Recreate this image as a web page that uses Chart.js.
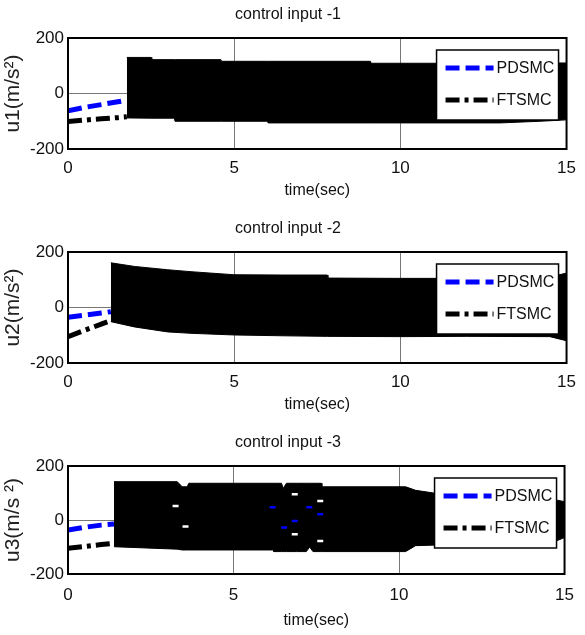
<!DOCTYPE html>
<html>
<head>
<meta charset="utf-8">
<script src="https://cdn.jsdelivr.net/npm/chart.js@4.4.1/dist/chart.umd.min.js"></script>
<style>
  html, body { margin: 0; padding: 0; background: #fff; }
  .panel { position: absolute; left: 0; }
</style>
</head>
<body>
<div class="panel" style="top:0px"><canvas id="u1" width="585" height="205"></canvas></div>
<div class="panel" style="top:214px"><canvas id="u2" width="585" height="205"></canvas></div>
<div class="panel" style="top:428px"><canvas id="u3" width="585" height="207"></canvas></div>
<script>
// ---- control input 1 ----
const pd1T = [0, 0.5, 1.0, 1.5, 1.77];
const pd1Y = [-62, -50, -40, -30, -24];
const ft1T = [0, 0.5, 1.0, 1.5, 1.77];
const ft1Y = [-101, -96, -91, -87, -84];
// envelope of the switching band
const band1T = [1.77, 2.5, 2.52, 3.2, 3.22, 4.6, 4.62, 6.0, 6.02, 9.1, 9.12, 13.0, 14.2, 15.0];
const band1Hi = [130, 130, 122, 122, 122, 122, 116, 116, 116, 116, 109, 109, 110, 110];
const band1Lo = [-88, -89, -89, -89, -100, -100, -100, -100, -106, -106, -106, -106, -100, -95];

// ---- control input 2 ----
const pd2T = [0, 0.5, 1.0, 1.29];
const pd2Y = [-35, -28, -20, -15];
const ft2T = [0, 0.5, 1.0, 1.29];
const ft2Y = [-105, -82, -60, -47];
const band2T = [1.29, 2, 3, 3.7, 5, 6.5, 7.8, 7.82, 10, 12, 14.5, 15];
const band2Hi = [161, 148, 136, 129, 118, 117, 117, 106, 105, 105, 110, 124];
const band2Lo = [-51, -70, -88, -93, -99, -102, -104, -104, -105, -104, -105, -120];

// ---- control input 3 ----
const pd3T = [0, 0.5, 1.0, 1.39];
const pd3Y = [-37, -27, -19, -15];
const ft3T = [0, 0.5, 1.0, 1.39];
const ft3Y = [-105, -98, -91, -86];
const band3T = [1.39, 3.3, 3.45, 3.6, 3.65, 6.2, 6.22, 6.45, 6.5, 6.6, 6.9, 7.2, 7.3, 7.4, 7.65, 7.67, 10.2, 10.5, 11.1, 13, 14.5, 15];
const band3Hi = [142, 142, 123, 123, 136, 136, 136, 136, 117, 136, 136, 136, 136, 136, 136, 123, 123, 110, 99, 95, 80, 68];
const band3Lo = [-99, -108, -111, -111, -111, -111, -117, -117, -117, -117, -117, -117, -100, -117, -117, -117, -117, -95, -93, -100, -90, -65];
// PDSMC samples showing through the band, and gaps in it
const pd3SpotT = [6.18, 7.29, 6.85, 7.62, 6.53];
const pd3SpotY = [47, 47, -4, 21, -28];
const gap3T = [3.25, 3.55, 6.85, 7.62, 6.85, 7.62];
const gap3Y = [52, -24, 95, 70, -53, -78];

const xTicks = [0, 5, 10, 15];
const yTicks = [-200, 0, 200];

const FONT = "'Liberation Sans', Arial, sans-serif";
const BLUE = 'rgb(0,0,255)';

function toPts(ts, ys) {
  return ts.map((t, i) => ({ x: t, y: ys[i] }));
}

// black box round the plot area
const frame = {
  id: 'frame',
  afterDatasetsDraw(chart) {
    const { ctx, chartArea: a } = chart;
    ctx.save();
    ctx.strokeStyle = '#000';
    ctx.lineWidth = 2;
    ctx.strokeRect(a.left, a.top, a.right - a.left, a.bottom - a.top);
    ctx.restore();
  }
};

// boxed legend in the upper right corner of the plot
const boxLegend = {
  id: 'boxLegend',
  afterDatasetsDraw(chart) {
    const { ctx, chartArea: a } = chart;
    const w = 122, h = 70;
    const left = a.right - 130, top = a.top + 12;
    ctx.save();
    ctx.fillStyle = '#fff';
    ctx.fillRect(left, top, w, h);
    ctx.strokeStyle = '#000';
    ctx.lineWidth = 1.5;
    ctx.strokeRect(left, top, w, h);
    const entries = chart.data.datasets.filter(d => d.label === 'PDSMC' || d.label === 'FTSMC');
    entries.forEach((d, i) => {
      const y = top + 18 + i * 32;
      ctx.beginPath();
      ctx.setLineDash(d.borderDash || []);
      ctx.lineWidth = d.borderWidth;
      ctx.strokeStyle = d.borderColor;
      ctx.moveTo(left + 9, y);
      ctx.lineTo(left + 57, y);
      ctx.stroke();
      ctx.setLineDash([]);
      ctx.fillStyle = '#111';
      ctx.font = '16px ' + FONT;
      ctx.textBaseline = 'middle';
      ctx.textAlign = 'left';
      ctx.fillText(d.label, left + 60, y + 1);
    });
    ctx.restore();
  }
};

function makeChart(id, opts) {
  const datasets = [];
  if (opts.gaps) {
    datasets.push({
      label: 'gaps', data: opts.gaps, showLine: false,
      pointStyle: 'line', pointRadius: 3, pointBorderColor: '#fff', pointBorderWidth: 2.5
    });
  }
  if (opts.spots) {
    datasets.push({
      label: 'PDSMC spots', data: opts.spots, showLine: false,
      pointStyle: 'line', pointRadius: 3, pointBorderColor: BLUE, pointBorderWidth: 2.5
    });
  }
  datasets.push(
    { label: 'PDSMC', data: opts.pd, borderColor: BLUE, borderWidth: 5, borderDash: [14, 6],
      pointRadius: 0, fill: false },
    { label: 'FTSMC', data: opts.ft, borderColor: '#000', borderWidth: 5, borderDash: [14, 5, 4, 5],
      pointRadius: 0, fill: false },
    { label: 'band top', data: opts.hi, borderColor: '#000', borderWidth: 1, backgroundColor: '#000',
      pointRadius: 0, fill: '+1' },
    { label: 'band bottom', data: opts.lo, borderColor: '#000', borderWidth: 1,
      pointRadius: 0, fill: false }
  );

  const tickFont = { family: FONT, size: 17 };
  const textFont = { family: FONT, size: 16, weight: 'normal' };
  return new Chart(document.getElementById(id), {
    type: 'line',
    data: { datasets },
    options: {
      responsive: false,
      animation: false,
      events: [],
      layout: { padding: { left: 0, right: 9, top: 0, bottom: 0 } },
      plugins: {
        legend: { display: false },
        tooltip: { enabled: false },
        title: {
          display: true, text: opts.title, color: '#111',
          font: textFont,
          padding: { top: 5, bottom: 13.8 }
        }
      },
      scales: {
        x: {
          type: 'linear', min: 0, max: 15,
          afterBuildTicks: s => { s.ticks = xTicks.map(v => ({ value: v })); },
          ticks: { padding: opts.xPad, color: '#111', font: tickFont, maxRotation: 0 },
          grid: { color: '#777', lineWidth: 1, drawTicks: false },
          border: { display: false },
          title: {
            display: true, text: 'time(sec)', color: '#111', font: textFont,
            padding: { top: 0, bottom: 5 }
          },
          afterFit: s => { s.height = opts.xHeight; }
        },
        y: {
          type: 'linear', min: -200, max: 200,
          afterBuildTicks: s => { s.ticks = yTicks.map(v => ({ value: v })); },
          ticks: { padding: 4, color: '#111', font: tickFont },
          grid: { color: '#777', lineWidth: 1, drawTicks: false },
          border: { display: false },
          title: {
            display: true, text: opts.yTitle, color: '#222',
            font: { family: FONT, size: 21 },
            padding: { top: 1, bottom: 0 }
          },
          afterFit: s => { s.width = 68; }
        }
      }
    },
    plugins: [frame, boxLegend]
  });
}

makeChart('u1', {
  title: 'control input -1', yTitle: 'u1(m/s²)', xPad: 9, xHeight: 56,
  pd: toPts(pd1T, pd1Y), ft: toPts(ft1T, ft1Y),
  hi: toPts(band1T, band1Hi), lo: toPts(band1T, band1Lo)
});

makeChart('u2', {
  title: 'control input -2', yTitle: 'u2(m/s²)', xPad: 9, xHeight: 56,
  pd: toPts(pd2T, pd2Y), ft: toPts(ft2T, ft2Y),
  hi: toPts(band2T, band2Hi), lo: toPts(band2T, band2Lo)
});

makeChart('u3', {
  title: 'control input -3', yTitle: 'u3(m/s ²)', xPad: 11, xHeight: 61,
  pd: toPts(pd3T, pd3Y), ft: toPts(ft3T, ft3Y),
  hi: toPts(band3T, band3Hi), lo: toPts(band3T, band3Lo),
  spots: toPts(pd3SpotT, pd3SpotY), gaps: toPts(gap3T, gap3Y)
});
</script>
</body>
</html>
